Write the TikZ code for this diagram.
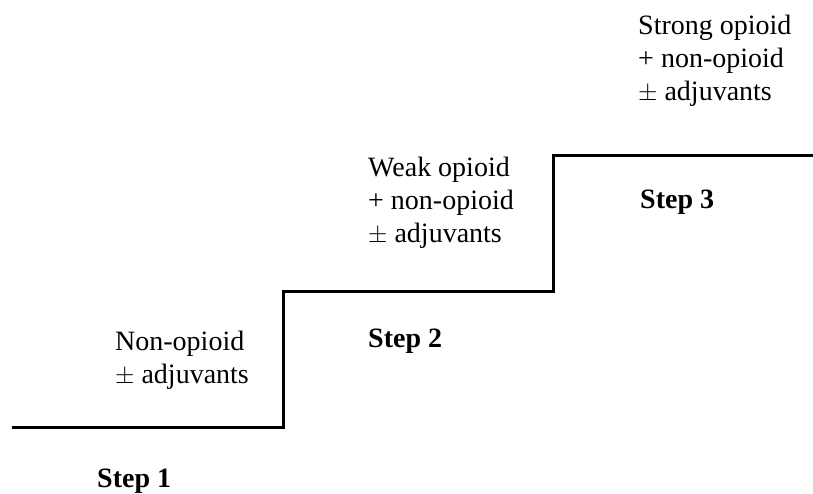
\documentclass[tikz,border=0pt]{standalone}
\usepackage{fontspec}
\setmainfont{Liberation Serif}
\begin{document}
\begin{tikzpicture}[x=1pt,y=-1pt,
  stair/.style={line width=3pt,line join=miter,line cap=butt},
  lbl/.style={anchor=base west,inner sep=0pt,align=left,font=\fontsize{28}{33}\selectfont},
  steplbl/.style={anchor=base west,inner sep=0pt,font=\fontsize{28}{33}\selectfont\bfseries}]
\useasboundingbox (0,0) rectangle (813,493);
\coordinate (s0) at (12,427);
\coordinate (s1) at (283,427);
\coordinate (s2) at (283,291);
\coordinate (s3) at (553,291);
\coordinate (s4) at (553,155);
\coordinate (s5) at (813,155);
\draw[stair] (s0) -- (s1) -- (s2) -- (s3) -- (s4) -- (s5);
\node[lbl] (t1) at (115,383) {Non-opioid\\$\pm$ adjuvants};
\node[lbl] (t2) at (368,242) {Weak opioid\\+ non-opioid\\$\pm$ adjuvants};
\node[lbl] (t3) at (638,100) {Strong opioid\\+ non-opioid\\$\pm$ adjuvants};
\node[steplbl] (st1) at (97,487) {Step 1};
\node[steplbl] (st2) at (368,347) {Step 2};
\node[steplbl] (st3) at (640,208) {Step 3};
\end{tikzpicture}
\end{document}
